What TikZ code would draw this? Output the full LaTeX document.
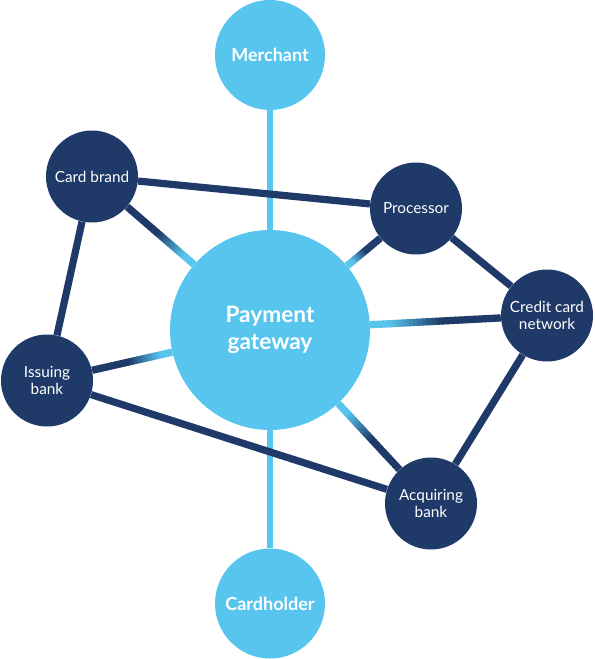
\documentclass[tikz,border=0pt]{standalone}
\usepackage{fontspec}
\setmainfont{Lato}
\usetikzlibrary{calc}

\definecolor{gwblue}{RGB}{87,197,238}
\definecolor{navyblue}{RGB}{31,58,104}

% line that fades from the gateway colour into the navy one
\newcommand{\fadelink}[2]{%
  \path (#1) -- (#2) coordinate[pos=0] (fs) coordinate[pos=1] (fe);
  \foreach \i in {0,...,39}{
    \pgfmathsetmacro{\ta}{\i/40}
    \pgfmathsetmacro{\tb}{min(1,(\i+1.3)/40)}
    \pgfmathtruncatemacro{\mixp}{max(0,min(100,(0.55-(\i+0.5)/40)/0.40*100))}
    \draw[darklink, draw=gwblue!\mixp!navyblue] ($(fs)!\ta!(fe)$) -- ($(fs)!\tb!(fe)$);
  }}

\begin{document}
\begin{tikzpicture}[x=0.75pt, y=-0.75pt,
  bignode/.style={circle, fill=gwblue, text=white, minimum size=150pt, inner sep=0pt,
    align=center, font=\fontsize{17}{20}\selectfont\bfseries},
  endnode/.style={circle, fill=gwblue, text=white, minimum size=82.5pt, inner sep=0pt,
    font=\fontsize{13.5}{16}\selectfont\bfseries},
  partynode/.style={circle, fill=navyblue, text=white, minimum size=69pt, inner sep=0pt,
    align=center, font=\fontsize{11.5}{13}\selectfont},
  lightlink/.style={draw=gwblue, line width=5pt},
  darklink/.style={draw=navyblue, line width=5.4pt}]
\useasboundingbox (0,0) rectangle (594,659);

\node[bignode] (gateway) at (270,330) {Payment\\gateway};
\node[endnode] (merchant) at (270,55) {Merchant};
\node[endnode] (cardholder) at (270,603.5) {Cardholder};

\node[partynode] (brand) at (92,176.5) {Card brand};
\node[partynode] (processor) at (416,208.5) {Processor};
\node[partynode] (network) at (547,315.5) {Credit card\\network};
\node[partynode] (issuing) at (47,380.5) {Issuing\\bank};
\node[partynode] (acquiring) at (431,503.5) {Acquiring\\bank};

\draw[lightlink] (gateway) -- (merchant);
\draw[lightlink] (gateway) -- (cardholder);

\fadelink{gateway}{brand}
\fadelink{gateway}{processor}
\fadelink{gateway}{network}
\fadelink{gateway}{issuing}
\fadelink{gateway}{acquiring}

\draw[darklink] (brand) -- (processor);
\draw[darklink] (brand) -- (issuing);
\draw[darklink] (processor) -- (network);
\draw[darklink] (network) -- (acquiring);
\draw[darklink] (issuing) -- (acquiring);
\end{tikzpicture}
\end{document}
